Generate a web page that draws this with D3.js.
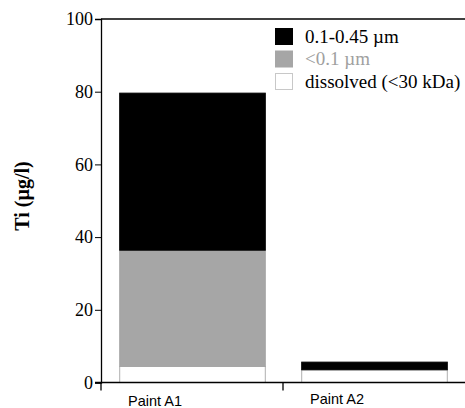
<!DOCTYPE html>
<html><head><meta charset="utf-8">
<script src="https://cdn.jsdelivr.net/npm/d3@7"></script>
<style>body{margin:0;background:#fff}</style>
</head><body>
<svg id="c" width="465" height="408"></svg>
<script>
const categories = ["Paint A1", "Paint A2"];
const seriesNames = ["dissolved (<30 kDa)", "<0.1 \u00b5m", "0.1-0.45 \u00b5m"];
const dissolved = [4.4, 3.5];
const small = [32.0, 0.0];
const large = [43.2, 2.1];
const yTicks = [0, 20, 40, 60, 80, 100];

const svg = d3.select("#c");
const x = d3.scaleBand().domain(categories).range([101, 465]).paddingInner(0.2).paddingOuter(0.1);
const y = d3.scaleLinear().domain([0, 100]).range([382.5, 19]);

const fills = ["#ffffff", "#a6a6a6", "#000000"];
const strokes = ["#b0b0b0", "#a6a6a6", "#000000"];
const rows = categories.map((c, i) => ({cat: c, d: dissolved[i], s: small[i], l: large[i]}));
const stack = d3.stack().keys(["d", "s", "l"])(rows);

stack.forEach((layer, k) => {
  svg.append("g").selectAll("rect").data(layer.filter(d => d[1] > d[0])).join("rect")
    .attr("x", d => x(d.data.cat) + 0.5)
    .attr("width", x.bandwidth())
    .attr("y", d => y(d[1]))
    .attr("height", d => y(d[0]) - y(d[1]))
    .attr("fill", fills[k])
    .attr("stroke", strokes[k])
    .attr("stroke-width", 1);
});

// top frame line
svg.append("line").attr("x1", 101).attr("x2", 465).attr("y1", y(100)).attr("y2", y(100))
  .attr("stroke", "#000").attr("stroke-width", 1.3);

// y axis
const ya = svg.append("g").attr("transform", "translate(101,0)")
  .call(d3.axisLeft(y).tickValues(yTicks).tickSize(6).tickPadding(2).tickFormat(d3.format("d")));
ya.select(".domain").attr("stroke-width", 1.3);
ya.selectAll("text").attr("font-family", "Liberation Serif").attr("font-size", 18).attr("fill", "#000");

// x axis
const xa = svg.append("g").attr("transform", `translate(0,${y(0)})`);
xa.append("line").attr("x1", 95).attr("x2", 465).attr("stroke", "#000").attr("stroke-width", 1.3);
const bounds = [101, x(categories[1]) - x.step() * x.paddingInner() / 2];
xa.selectAll("line.t").data(bounds).join("line").attr("class", "t")
  .attr("x1", d => d).attr("x2", d => d).attr("y1", 0).attr("y2", 8)
  .attr("stroke", "#000").attr("stroke-width", 1.3);
xa.selectAll("text").data(categories).join("text")
  .attr("x", d => x(d) + x.bandwidth() / 2 - 37)
  .attr("y", (d, i) => i === 0 ? 23.5 : 21.5)
  .attr("text-anchor", "middle")
  .attr("font-family", "Liberation Sans").attr("font-size", 14.5).attr("fill", "#000")
  .text(d => d);

// y label
svg.append("text").attr("transform", "translate(29,196) rotate(-90)")
  .attr("text-anchor", "middle").attr("font-family", "Liberation Serif")
  .attr("font-weight", "bold").attr("font-size", 20).text("Ti (\u00b5g/l)");

// legend
const legendOrder = [2, 1, 0];
const lg = svg.append("g");
legendOrder.forEach((k, i) => {
  lg.append("rect").attr("x", 275.5).attr("y", 28.5 + i * 22.5).attr("width", 17).attr("height", 16)
    .attr("fill", fills[k]).attr("stroke", k === 0 ? "#c8c8c8" : fills[k]);
  lg.append("text").attr("x", 305).attr("y", 42.5 + i * 22.5)
    .attr("font-family", "Liberation Serif").attr("font-size", 19)
    .attr("fill", k === 1 ? "#a0a0a0" : "#000")
    .text(seriesNames[k]);
});
</script>
</body></html>
